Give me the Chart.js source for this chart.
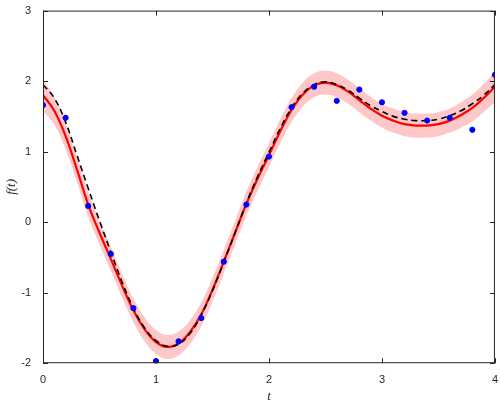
<!DOCTYPE html>
<html lang="en">
<head>
<meta charset="UTF-8">
<title>GP fit</title>
<style>html,body{margin:0;padding:0;background:#fff}</style>
</head>
<body>
<div style="width:500px;height:406px"><canvas id="myChart"></canvas></div>
<script src="https://cdn.jsdelivr.net/npm/chart.js@4"></script>
<script>
// observed samples
var obsT = [0,0.2,0.4,0.6,0.8,1.0,1.2,1.4,1.6,1.8,2.0,2.2,2.4,2.6,2.8,3.0,3.2,3.4,3.6,3.8,4.0];
var obsY = [1.66,1.48,0.23,-0.45,-1.22,-1.97,-1.69,-1.36,-0.56,0.25,0.93,1.63,1.92,1.72,1.88,1.70,1.55,1.44,1.48,1.31,2.09];
// curve grid
var gridT = [0,0.1,0.2,0.3,0.4,0.5,0.6,0.7,0.8,0.9,1.0,1.1,1.2,1.3,1.4,1.5,1.6,1.7,1.8,1.9,2.0,2.1,2.2,2.3,2.4,2.5,2.6,2.7,2.8,2.9,3.0,3.1,3.2,3.3,3.4,3.5,3.6,3.7,3.8,3.9,4.0];
var fitY = [1.80,1.58,1.22,0.75,0.25,-0.15,-0.52,-0.90,-1.25,-1.52,-1.70,-1.77,-1.72,-1.56,-1.31,-0.96,-0.56,-0.15,0.26,0.62,0.95,1.29,1.59,1.81,1.94,1.98,1.94,1.85,1.73,1.61,1.51,1.44,1.39,1.37,1.37,1.39,1.44,1.52,1.62,1.76,1.92];
var trueY = [1.95,1.76,1.42,0.95,0.48,0.02,-0.42,-0.85,-1.22,-1.50,-1.68,-1.76,-1.73,-1.58,-1.32,-0.97,-0.57,-0.15,0.27,0.65,0.99,1.33,1.62,1.83,1.95,1.99,1.95,1.87,1.76,1.65,1.57,1.50,1.46,1.44,1.44,1.46,1.51,1.58,1.68,1.80,1.95];
var bandW = [0.22,0.2,0.19,0.18,0.17,0.17,0.17,0.17,0.17,0.17,0.17,0.17,0.17,0.17,0.17,0.17,0.17,0.17,0.17,0.17,0.17,0.17,0.17,0.17,0.17,0.17,0.17,0.17,0.17,0.17,0.17,0.17,0.17,0.17,0.17,0.17,0.17,0.18,0.19,0.2,0.22];
var xTicks = [0,1,2,3,4];
var yTicks = [-2,-1,0,1,2,3];

function pts(xs, ys){ return xs.map(function(x,i){ return {x:x, y:ys[i]}; }); }
var upper = pts(gridT, fitY.map(function(v,i){ return v + bandW[i]; }));
var lower = pts(gridT, fitY.map(function(v,i){ return v - bandW[i]; }));

var frame = {
  id:'frame',
  afterDraw:function(c){
    var a=c.chartArea, g=c.ctx, sx=c.scales.x, sy=c.scales.y;
    g.save(); g.strokeStyle='#262626'; g.lineWidth=1;
    g.strokeRect(a.left+0.5,a.top+0.5,a.right-a.left-1,a.bottom-a.top-1);
    g.beginPath();
    xTicks.forEach(function(v){ var p=Math.round(sx.getPixelForValue(v))+0.5;
      g.moveTo(p,a.bottom); g.lineTo(p,a.bottom-5); g.moveTo(p,a.top); g.lineTo(p,a.top+5); });
    yTicks.forEach(function(v){ var p=Math.round(sy.getPixelForValue(v))+0.5;
      g.moveTo(a.left,p); g.lineTo(a.left+5,p); g.moveTo(a.right,p); g.lineTo(a.right-5,p); });
    g.stroke(); g.restore();
  }
};

var ctx = document.getElementById('myChart').getContext('2d');
var myChart = new Chart(ctx, {
  type:'scatter',
  data:{ datasets:[
    {label:'upper', order:4, data:upper, showLine:true, pointRadius:0, borderWidth:0, borderColor:'rgba(0,0,0,0)', fill:false, tension:0.4},
    {label:'lower', order:3, data:lower, showLine:true, pointRadius:0, borderWidth:0, borderColor:'rgba(0,0,0,0)', backgroundColor:'rgba(255,200,200,1)', fill:'-1', tension:0.4},
    {label:'fit', order:2, data:pts(gridT,fitY), showLine:true, pointRadius:0, borderColor:'#ff0000', borderWidth:2.2, tension:0.4},
    {label:'true', order:1, data:pts(gridT,trueY), showLine:true, pointRadius:0, borderColor:'#000', borderWidth:1.6, borderDash:[6,4], tension:0.4},
    {label:'obs', order:0, data:pts(obsT,obsY), pointRadius:2.6, backgroundColor:'#0000ff', borderColor:'#0000ff', pointStyle:'circle'}
  ]},
  options:{
    responsive:true, maintainAspectRatio:false, animation:false,
    layout:{padding:{top:0,right:4,left:0,bottom:0}},
    plugins:{legend:{display:false}, tooltip:{enabled:false}},
    scales:{
      x:{type:'linear', min:0, max:4,
         grid:{display:false}, border:{display:false},
         ticks:{stepSize:1, color:'#262626', font:{family:'Liberation Sans', size:11}, padding:2},
         title:{display:true, text:'t', color:'#262626', padding:{top:0,bottom:2}, font:{family:'Liberation Serif', style:'italic', size:13}}},
      y:{min:-2, max:3,
         grid:{display:false}, border:{display:false},
         afterFit:function(s){ s.width=43; },
         ticks:{stepSize:1, color:'#262626', font:{family:'Liberation Sans', size:11}, padding:4},
         title:{display:true, text:'f(t)', color:'#262626', padding:{bottom:4}, font:{family:'Liberation Serif', style:'italic', size:13}}}
    }
  },
  plugins:[frame]
});
</script>
</body>
</html>
